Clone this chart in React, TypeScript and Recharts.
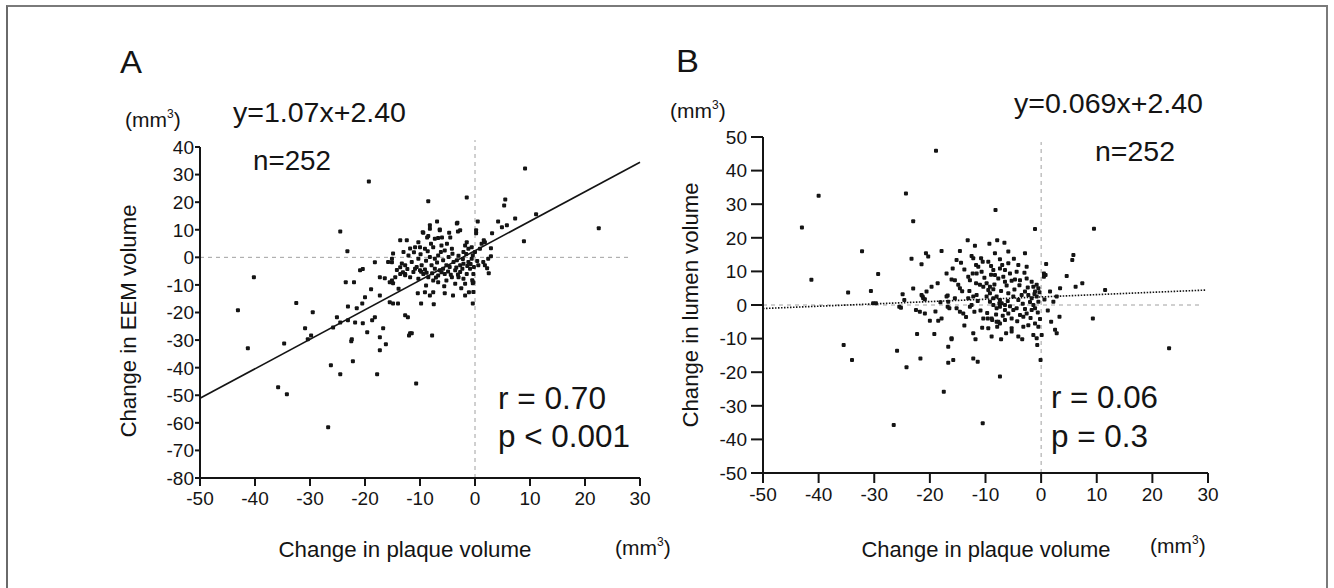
import React from "react";
import { ScatterChart, Scatter, XAxis, YAxis, ReferenceLine } from "recharts";

// ---------- data ----------
const xTicks = [-50, -40, -30, -20, -10, 0, 10, 20, 30];
const aYTicks = [-80, -70, -60, -50, -40, -30, -20, -10, 0, 10, 20, 30, 40];
const bYTicks = [-50, -40, -30, -20, -10, 0, 10, 20, 30, 40, 50];

const aSlope = 1.07;
const aIntercept = 2.4;
const bSlope = 0.069;
const bIntercept = 2.4;

// Panel A: change in plaque volume (x) vs change in EEM volume (y)
const aPoints: number[][] = [
  [-19.3, 27.5], [-24.5, 9.4], [-40.2, -7.2], [-43.1, -19.2], [-32.5, -16.6], [-23.2, 2.2],
  [-13.6, 6.2], [-12.4, 6.2], [-29.5, -19.9], [-30.9, -25.7], [-23.5, -9], [-22, -9],
  [-20.9, -4.7], [-20.4, -4.2], [-18.2, -1.8], [-17.3, -7.2], [-16.4, -7.6], [-15.5, -9],
  [-14.9, -9.4], [-14.9, 1.4], [-15.1, -1.8], [-13.6, -3.6], [-13.1, -5.4], [-12.7, -6.5],
  [-20, -14.5], [-18.9, -11.6], [-17.3, -13.8], [-23.1, -17.8], [-20.5, -16.7], [-21.5, -18.5],
  [-15.5, -16.3], [-14.9, -16.7], [-14, -16.7], [-25.1, -21.7], [-24.5, -23.6], [-23.1, -22.8],
  [-21.8, -23.6], [-20.4, -23.9], [-18.7, -22.8], [-16.7, -25.7], [-19.6, -27.2], [-18.2, -21.7],
  [-12.7, -21], [-11.8, -27.5], [-17.3, -29], [-22.4, -29.7], [-25.8, -25.4], [-41.3, -33],
  [-34.7, -31.2], [-35.8, -47.1], [-34.2, -49.6], [-30.4, -29.7], [-29.8, -28.3], [-26.7, -61.6],
  [-26.2, -39.1], [-24.5, -42.4], [-22.5, -30.4], [-22.2, -37.7], [-16.2, -31.5], [-17.3, -33.7],
  [-17.8, -42.4], [-10.7, -45.7], [-12.2, -21.7], [-12, -28.3], [-11.5, -27.5], [-7.8, -28.3],
  [-9.8, -16.7], [-7.5, -17], [-0.4, -16.7], [9.1, 32.2], [-8.5, 20.3], [-1.5, 21.7],
  [5.5, 21], [5.3, 18.8], [7.3, 14.1], [11.1, 15.6], [22.5, 10.5], [8.9, 5.8],
  [4.2, 13], [4.9, 10.9], [5.8, 11.6], [0.5, 13], [3.1, 8.7], [0.2, 9.8],
  [0.2, 8.7], [1.6, 6.2], [2.9, 3.3], [2.9, 0.4], [2.2, -4], [2.5, -5.8],
  [-0.4, -9.4], [-0.5, -8.3], [-1.1, -12.7], [-4, -13.8], [-5.5, -13], [-7.6, -12.7],
  [-8.2, -13.8], [-9.1, -12.7], [-10.4, -13], [-6.9, 13], [-8.2, 11.6], [-6.4, 10.1],
  [-3.3, 12.3], [-3.1, 9.4], [-9.5, 9.1], [-8.7, 7.2], [-6, 7.2], [-4.5, 7.2],
  [-3.2, 12.5], [-8.2, 10.4], [-6.4, 9.8], [-9.4, 8.9], [-8.5, 7.7], [-6.7, 7.0],
  [-2.7, 9.8], [-10.3, 5.5], [-7.3, 6.7], [-10.9, 3.7], [-10, 3.7], [-9.1, 3.1],
  [-8.6, 2.2], [-7.6, 3.7], [-6.1, 4.3], [-5.1, 4.9], [-4.2, 3.1], [-5.5, 2.5],
  [-1.8, 4.3], [-1.2, 3.1], [-0.6, 3.7], [-1.5, 5.5], [-2.1, 1.9], [1.2, 4.9],
  [1.8, 5.5], [0.9, 3.1], [0, 1.9], [-15.1, -0.5], [-15.8, -1.7], [-13, 1.9],
  [-12.1, 0.7], [-11.5, -1.7], [-12.7, -2.9], [-10.3, -0.5], [-9.7, -2.9], [-10.9, -4.1],
  [-10, -4.7], [-9.4, -6], [-8.2, 0.1], [-7.3, -0.5], [-6.7, 0.7], [-5.8, -1.1],
  [-4.8, 0.1], [-7.9, -2.9], [-7.3, -4.1], [-6.4, -4.7], [-5.8, -4.1], [-5.2, -2.9],
  [-4.6, -3.5], [-3.9, -1.7], [-3.3, -1.1], [-2.7, -2.9], [-2.1, -2.3], [-3.6, -4.7],
  [-2.7, -5.3], [-1.2, -1.7], [-0.6, -0.5], [-0.9, -4.1], [-0.3, -6], [-1.5, -6],
  [0.6, -2.9], [1.5, -1.7], [-14.5, -7.2], [-13.6, -6], [-15.1, -8.4], [-12.7, -6],
  [-11.8, -7.2], [-10.3, -7.8], [-8.5, -7.2], [-7.6, -8.4], [-6.7, -6.6], [-5.5, -6],
  [-4.2, -7.2], [-3, -7.2], [-2.1, -7.8], [-6.7, -9], [-5.2, -8.4], [-3.6, -9.6],
  [-1.8, -9.6], [-0.3, -9], [-1.8, -13.8], [-0.3, -12.6], [1.8, -2.9], [2.4, -0.5],
  [-10.6, -3.5], [-9.8, -5.2], [-9.1, -4.4], [-8.8, -5.6], [-7.8, -5.8], [-7.1, -7.3],
  [-6.1, -5.4], [-4.9, -5.1], [-4.4, -6.3], [-3.1, -6.2], [-3.4, -3.7], [-2.3, -4.1],
  [-1.4, -3.1], [-0.8, -2.4], [-0.2, -3.5], [-11.2, -5.3], [-12.3, -4.2], [-13.3, -2.2],
  [-14.2, -4.6], [-11.1, 1.8], [-9.9, 1.1], [-8.9, -1.2], [-6.9, -1.9], [-6.2, 1.9],
  [-4.1, 1.3], [-3, 0.6], [-2.2, -0.6], [-1.6, 1.2], [-0.4, 0.8], [0.4, -1.3],
  [-8.0, 4.9], [-11.8, 3.2], [-5.6, -10.5], [-8.9, -10.2], [-2.5, -11.2], [-4.7, 8.9],
  [-13.9, -11.4],
];

// Panel B: change in plaque volume (x) vs change in lumen volume (y)
const bPoints: number[][] = [
  [-18.9, 45.9], [-40, 32.5], [-43, 23.1], [-24.3, 33.2], [-23, 24.9], [-8.2, 28.3],
  [-41.3, 7.5], [-32.2, 16], [-29.3, 9.2], [-34.7, 3.7], [-30.6, 4.2], [-30.2, 0.5],
  [-29.7, 0.5], [-23.3, 13.8], [-21.5, 12.1], [-20.7, 15.4], [-20.3, 14.4], [-17.9, 16.1],
  [-13.2, 19.3], [-11.9, 17.6], [-9.3, 18.2], [-7.9, 19.3], [-14.6, 16.1], [-24.9, 3.2],
  [-24.6, 1.5], [-25.2, -0.8], [-23, 4.9], [-21.3, 2.5], [-20.9, 1.7], [-19.7, 5.4],
  [-18.6, 6.5], [-20, -4.7], [-18.5, -4.7], [-17.9, -4], [-22.5, -1.5], [-21.8, -2],
  [-20.9, -2.5], [-17, 9.4], [-16.1, 7.6], [-15.5, 7.4], [-16.8, 2.8], [-16.8, -0.5],
  [-16.5, -1], [-15.2, 13.4], [-14.4, 12.6], [-14.9, 6], [-14.6, 5], [-12.5, 14.6],
  [-12.2, 13.9], [-11.7, 11.9], [-11.3, 11.4], [-13.1, 8.4], [-12.8, 7.4], [-12.3, 9.4],
  [-10.8, 13.9], [-10.5, 12.9], [-9.5, 12.9], [-9, 11.6], [-8.6, 10.4], [-11.7, 6.5],
  [-11, 6], [-10.4, 5.4], [-9.8, 6.5], [-9.2, 5.4], [-8.6, 4.7], [-15.2, -1],
  [-14.6, -2], [-13.1, 2], [-12.2, 2.5], [-11.6, 3], [-9.8, 2.5], [-9.2, 3.5],
  [-8.6, 2], [-8, 2.5], [-7.5, 0.5], [-9.6, -4], [-8.8, -4.5], [-8, -5],
  [-9.5, -6.9], [-7.9, -6.5], [-12.8, -0.5], [-1.1, 22.6], [-6.6, 18.5], [-5.9, 15.9],
  [-8.3, 15.4], [-2.9, 15.4], [-7.4, 13.6], [-5.9, 12.4], [-7.4, 10.9], [-6.5, 10.4],
  [-4.1, 11.9], [-2.6, 11.4], [0.9, 12.2], [0.5, 9.4], [0.5, 8.4], [4.6, 8.6],
  [-10.7, 9.9], [-11.6, 9.4], [-9.5, 4.5], [-8.3, 8.9], [-7.7, 7.9], [-6.8, 8.4],
  [-6.5, 6.9], [-5.3, 7.2], [-4.7, 7.6], [-3.8, 7.4], [-5.6, 9.4], [-4.4, 9.9],
  [-2.6, 7.9], [-1.7, 6.9], [-1.4, 5.4], [-0.8, 6], [-0.5, 5], [-20.6, 4],
  [-21.5, 3], [-21.2, 2], [-17, 2.5], [-16.7, 1], [-15.5, 2], [-12.5, 0],
  [-7.4, 1.5], [-7.1, 0.5], [-6.5, 0], [-5.9, 3.5], [-5, 2.5], [-4.1, 1.5],
  [-3.5, 3], [-2.9, 4], [-2.3, 3], [-1.7, 2], [-1.1, 4], [-0.8, 2.5],
  [-0.5, 1], [-1.4, 0], [-1.1, -1], [-1.7, -1.5], [1.6, 4], [2.2, 1],
  [3.4, 5], [2.8, 2.5], [-7.4, -0.5], [-6.5, -1.5], [-5.9, -2.5], [-5, -1.5],
  [-4.4, -1], [-3.8, -3], [-3.2, -3.5], [-2.6, -2.5], [-5.3, -4], [-9.2, 1],
  [-8.6, 0], [-8, -1], [-14, -2.5], [-10.4, -4], [-8.9, -4], [-7.7, -5],
  [-7.4, -5.5], [-6.5, -4.5], [-5.3, -6.9], [-5.3, -7.9], [-3.2, -6.5], [-2.3, -6],
  [-1.1, -5.5], [-0.5, -6.5], [0.1, -8.9], [2.5, -7.4], [2.8, -8.4], [-16.1, -9.9],
  [-12.2, -8.4], [-8.9, -9.4], [-4.1, -9.4], [-1.4, -8.9], [-0.8, -9.9], [9.3, -4],
  [23, -12.9], [9.5, 22.7], [-35.5, -11.9], [-34, -16.4], [-25.9, -13.6], [-24.2, -18.5],
  [-26.5, -35.7], [-10.5, -35.2], [-17.5, -25.8], [-7.4, -21.3], [-21.7, -15.9], [-22.3, -8.6],
  [-19.2, -8.6], [-16.7, -12.4], [-16.1, -10.2], [-16.7, -17.2], [-15.8, -16.4], [-11.8, -10.2],
  [-12.2, -15.9], [-11.4, -16.9], [-7.2, -10.2], [-3.4, -10.2], [-0.7, -11.9], [-0.1, -16.4],
  [3.3, -3.5], [-25.5, -0.5], [5.6, 13.4], [5.8, 14.9], [7.4, 6.5], [6.2, 5.4],
  [11.5, 4.5], [0.8, 8.9], [-13.8, 10.6], [-12.9, 4.2], [-11.4, 1.2], [-10.9, -1.6],
  [-10.2, 8.1], [-9.7, -2.4], [-9.0, 9.0], [-8.4, 6.1], [-8.1, -2.8], [-7.2, 4.2],
  [-6.9, -3.2], [-6.2, 5.8], [-6.0, 1.2], [-5.6, -0.4], [-4.8, 4.6], [-4.3, -4.8],
  [-3.9, 5.9], [-3.3, 0.4], [-2.9, -1.2], [-2.4, 5.2], [-2.0, 0.9], [-1.9, -3.9],
  [-1.2, 3.3], [-0.6, -2.2], [-0.3, 3.8], [-0.2, -4.2], [0.6, 1.6], [1.2, -1.6],
  [-14.2, 4.1], [-13.5, -3.6], [-12.0, -2.0], [-10.6, -6.8], [-7.0, 11.9], [-4.9, 13.8],
  [-3.0, 9.6], [-15.9, 10.9], [-18.1, 0.8], [-19.0, -1.9], [-6.3, -8.4], [-13.8, -6.1],
  [1.8, -5.0],
];

const aData = aPoints.map(([x, y]) => ({ x, y }));
const bData = bPoints.map(([x, y]) => ({ x, y }));

const FONT = "'Liberation Sans', Arial, Helvetica, sans-serif";
const INK = "#141414";
const TICK_FS = 19;

const Dot = (props: any) => {
  const { cx, cy } = props;
  if (cx == null || cy == null) return null;
  return <rect x={cx - 2} y={cy - 2} width={4} height={4} rx={1} fill={INK} />;
};

const XTick = (props: any) => {
  const { x, y, payload } = props;
  return (
    <text x={x} y={y} dy={TICK_FS * 0.72} textAnchor="middle" fontSize={TICK_FS} fontFamily={FONT} fill={INK}>
      {payload.value}
    </text>
  );
};

const YTick = (props: any) => {
  const { x, y, payload } = props;
  return (
    <text x={x} y={y} dy={TICK_FS * 0.36} textAnchor="end" fontSize={TICK_FS} fontFamily={FONT} fill={INK}>
      {payload.value}
    </text>
  );
};

const axisStroke = { stroke: INK, strokeWidth: 2 };

function PanelA() {
  return (
    <ScatterChart width={667} height={588} margin={{ top: 147, right: 27, bottom: 70, left: 140 }}>
      <XAxis
        type="number"
        dataKey="x"
        domain={[-50, 30]}
        ticks={xTicks}
        height={40}
        tickSize={8}
        tickMargin={5}
        axisLine={axisStroke}
        tickLine={axisStroke}
        tick={<XTick />}
        allowDataOverflow
      />
      <YAxis
        type="number"
        dataKey="y"
        domain={[-80, 40]}
        ticks={aYTicks}
        width={60}
        tickSize={5}
        tickMargin={1}
        axisLine={axisStroke}
        tickLine={axisStroke}
        tick={<YTick />}
        allowDataOverflow
      />
      <ReferenceLine
        segment={[{ x: -50, y: 0 }, { x: 28, y: 0 }]}
        stroke="#a0a0a0"
        strokeDasharray="4 4"
        strokeWidth={1}
        ifOverflow="visible"
      />
      <ReferenceLine
        segment={[{ x: 0, y: -80 }, { x: 0, y: 42.5 }]}
        stroke="#a0a0a0"
        strokeDasharray="4 4"
        strokeWidth={1}
        ifOverflow="visible"
      />
      <ReferenceLine
        segment={[
          { x: -50, y: aSlope * -50 + aIntercept },
          { x: 30, y: aSlope * 30 + aIntercept },
        ]}
        stroke={INK}
        strokeWidth={1.6}
        ifOverflow="visible"
      />
      <Scatter data={aData} shape={<Dot />} isAnimationActive={false} />
    </ScatterChart>
  );
}

function PanelB() {
  return (
    <ScatterChart width={667} height={588} margin={{ top: 137, right: 126, bottom: 75, left: 36 }}>
      <XAxis
        type="number"
        dataKey="x"
        domain={[-50, 30]}
        ticks={xTicks}
        height={40}
        tickSize={10}
        tickMargin={4}
        axisLine={axisStroke}
        tickLine={axisStroke}
        tick={<XTick />}
        allowDataOverflow
      />
      <YAxis
        type="number"
        dataKey="y"
        domain={[-50, 50]}
        ticks={bYTicks}
        width={60}
        tickSize={12}
        tickMargin={4}
        axisLine={axisStroke}
        tickLine={axisStroke}
        tick={<YTick />}
        allowDataOverflow
      />
      <ReferenceLine
        segment={[{ x: -50, y: 0 }, { x: 28.5, y: 0 }]}
        stroke="#a0a0a0"
        strokeDasharray="4 4"
        strokeWidth={1}
        ifOverflow="visible"
      />
      <ReferenceLine
        segment={[{ x: 0, y: -50 }, { x: 0, y: 48.5 }]}
        stroke="#a0a0a0"
        strokeDasharray="4 4"
        strokeWidth={1}
        ifOverflow="visible"
      />
      <ReferenceLine
        segment={[
          { x: -50, y: bSlope * -50 + bIntercept },
          { x: 29.7, y: bSlope * 29.7 + bIntercept },
        ]}
        stroke={INK}
        strokeWidth={1.6}
        strokeDasharray="1.5 1.5"
        ifOverflow="visible"
      />
      <Scatter data={bData} shape={<Dot />} isAnimationActive={false} />
    </ScatterChart>
  );
}

const T = (p: { x: number; y: number; fs: number; len?: number; children: React.ReactNode; anchor?: string }) => (
  <text
    x={p.x}
    y={p.y}
    fontSize={p.fs}
    fontFamily={FONT}
    fill={INK}
    textAnchor={(p.anchor as any) || "start"}
    textLength={p.len}
    lengthAdjust={p.len ? "spacingAndGlyphs" : undefined}
  >
    {p.children}
  </text>
);

const Mm3 = (p: { x: number; y: number }) => (
  <text x={p.x} y={p.y} fontSize={21} fontFamily={FONT} fill={INK}>
    (mm
    <tspan fontSize={12} dy={-9}>3</tspan>
    <tspan dy={9}>)</tspan>
  </text>
);

const VLabel = (p: { x: number; y: number; len: number; children: string }) => (
  <text
    transform={`translate(${p.x},${p.y}) rotate(-90)`}
    x={0}
    y={0}
    fontSize={22}
    fontFamily={FONT}
    fill={INK}
    textAnchor="middle"
    textLength={p.len}
    lengthAdjust="spacingAndGlyphs"
  >
    {p.children}
  </text>
);

function Overlay() {
  return (
    <svg width={1334} height={588} style={{ position: "absolute", left: 0, top: 0, pointerEvents: "none" }}>
      {/* Panel A */}
      <T x={120} y={73} fs={31} len={22}>A</T>
      <Mm3 x={125} y={127} />
      <T x={233} y={122} fs={27} len={173}>y=1.07x+2.40</T>
      <T x={253} y={170} fs={27} len={78}>n=252</T>
      <T x={498} y={409} fs={32} len={108}>r = 0.70</T>
      <T x={498} y={447} fs={32} len={132}>p &lt; 0.001</T>
      <VLabel x={136} y={321} len={233}>Change in EEM volume</VLabel>
      <T x={405} y={557} fs={22} len={253} anchor="middle">Change in plaque volume</T>
      <Mm3 x={615} y={555} />

      {/* Panel B */}
      <T x={676} y={72} fs={31} len={23}>B</T>
      <Mm3 x={670} y={118} />
      <T x={1014} y={113} fs={27} len={189}>y=0.069x+2.40</T>
      <T x={1095} y={161} fs={27} len={80}>n=252</T>
      <T x={1051} y={408} fs={32} len={107}>r = 0.06</T>
      <T x={1051} y={447} fs={32} len={97}>p = 0.3</T>
      <VLabel x={698} y={305} len={245}>Change in lumen volume</VLabel>
      <T x={986} y={557} fs={22} len={249} anchor="middle">Change in plaque volume</T>
      <Mm3 x={1150} y={553} />
    </svg>
  );
}

export default function App() {
  return (
    <div
      style={{
        position: "fixed",
        left: 0,
        top: 0,
        width: 1334,
        height: 588,
        overflow: "hidden",
        background: "#fff",
      }}
    >
      <div
        style={{
          position: "absolute",
          left: 6,
          top: 5,
          width: 1322,
          height: 640,
          borderTop: "2px solid #7a7a7a",
          borderLeft: "2px solid #6a6a6a",
          borderRight: "2px solid #7a7a7a",
          boxSizing: "border-box",
        }}
      />
      <div style={{ position: "absolute", left: 0, top: 0 }}>
        <PanelA />
      </div>
      <div style={{ position: "absolute", left: 667, top: 0 }}>
        <PanelB />
      </div>
      <Overlay />
    </div>
  );
}
